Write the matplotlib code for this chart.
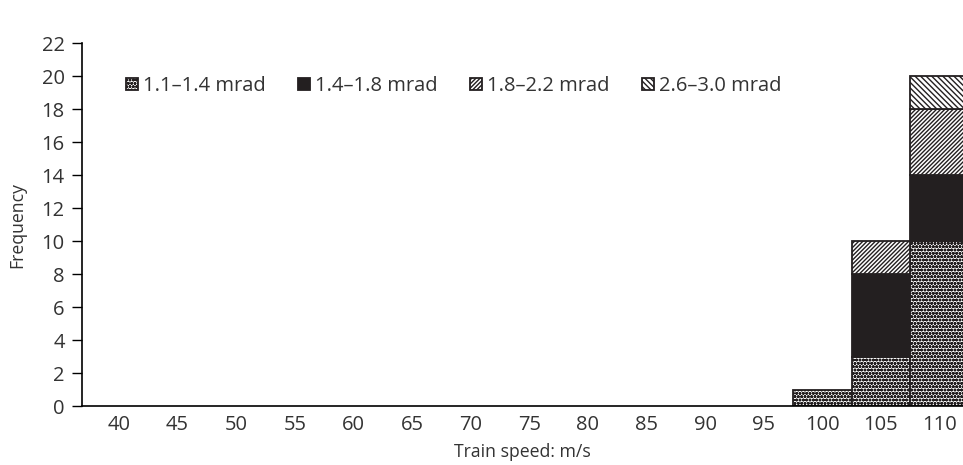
import matplotlib
matplotlib.use("Agg")
import matplotlib.pyplot as plt
import numpy as np

plt.rcParams['font.family'] = ['Open Sans', 'DejaVu Sans']
plt.rcParams['hatch.linewidth'] = 1.0

speeds = [40, 45, 50, 55, 60, 65, 70, 75, 80, 85, 90, 95, 100, 105, 110]
series_labels = ["1.1–1.4 mrad", "1.4–1.8 mrad", "1.8–2.2 mrad", "2.6–3.0 mrad"]
s1 = [0, 0, 0, 0, 0, 0, 0, 0, 0, 0, 0, 0, 1, 3, 10]
s2 = [0, 0, 0, 0, 0, 0, 0, 0, 0, 0, 0, 0, 0, 5, 4]
s3 = [0, 0, 0, 0, 0, 0, 0, 0, 0, 0, 0, 0, 0, 2, 4]
s4 = [0, 0, 0, 0, 0, 0, 0, 0, 0, 0, 0, 0, 0, 0, 2]
yticks = list(range(0, 23, 2))

fig = plt.figure(figsize=(9.63, 4.65), dpi=100)
ax = fig.add_axes([82/963, 59/465, 1 - 82/963, (406-43)/465])

x = np.arange(len(speeds))
styles = [
    dict(facecolor='white', hatch='ooooo'),
    dict(facecolor='#231f20', hatch=None),
    dict(facecolor='white', hatch='////////'),
    dict(facecolor='white', hatch='\\\\\\\\\\\\'),
]
bottom = np.zeros(len(speeds))
handles = []
for vals, lab, st in zip([s1, s2, s3, s4], series_labels, styles):
    v = np.array(vals, dtype=float)
    mask = v > 0
    b = ax.bar(x[mask], v[mask], width=1.0, bottom=bottom[mask], edgecolor='#231f20',
               linewidth=1.3, label=lab, **st)
    bottom += v
    handles.append(b)

ax.set_xlim(-0.63, 14.4)
ax.set_ylim(0, 22)
ax.set_yticks(yticks)
ax.set_xticks(x)
ax.set_xticklabels([str(s) for s in speeds])
ax.tick_params(axis='x', length=0, pad=6.5, labelsize=14.5, labelcolor='#333333')
ax.tick_params(axis='y', length=7, width=1, labelsize=14.5, labelcolor='#333333', pad=5.5)
for sp in ['top', 'right']:
    ax.spines[sp].set_visible(False)
ax.spines['left'].set_linewidth(1.2)
ax.spines['bottom'].set_linewidth(1.2)
ax.set_xlabel("Train speed: m/s", fontsize=12.7, color='#333333')
ax.xaxis.set_label_coords(0.5, -(443 - 406) / 363)
ax.set_ylabel("Frequency", fontsize=12.7, color='#333333')
ax.yaxis.set_label_coords((26 - 82) / 881, 0.5)

leg = ax.legend(handles=handles, labels=series_labels, ncol=4, frameon=False,
                loc='center left', bbox_to_anchor=(0.041, 1 - 43/363),
                handlelength=0.6, handleheight=0.6, handletextpad=0.25,
                columnspacing=1.6, fontsize=14.5, borderaxespad=0)
for t in leg.get_texts():
    t.set_color('#333333')

fig.savefig("out.png", dpi=100)
